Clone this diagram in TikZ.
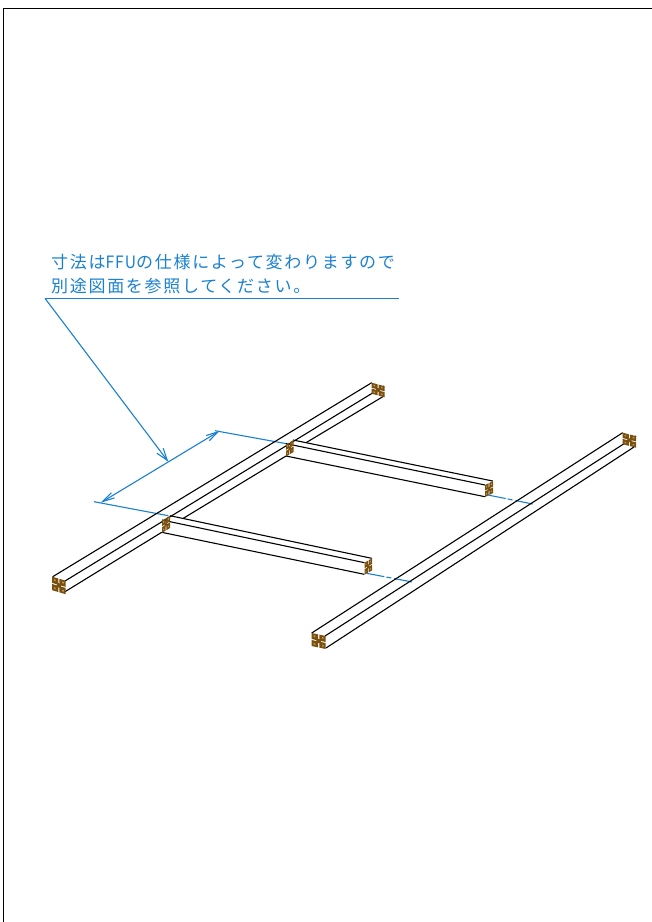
\documentclass[tikz,border=0pt]{standalone}
\usepackage{fontspec}
\usepackage{tikz}
\usetikzlibrary{arrows.meta}
\newfontfamily\cjk[LetterSpace=10]{Noto Sans CJK JP}
\newfontfamily\cjknarrow[FakeStretch=0.92,LetterSpace=6]{Noto Sans CJK JP}
\definecolor{noteblue}{HTML}{1A80D0}
\definecolor{capbrown}{HTML}{7A5010}
\definecolor{capgap}{HTML}{B89850}
\tikzset{
  beamline/.style={line width=1.1pt,black},
  noteline/.style={line width=1.1pt,noteblue},
  centerline/.style={noteline,dash pattern=on 18pt off 2pt on 5pt off 3pt},
  notetext/.style={anchor=base west,inner sep=0pt,text=noteblue,font=\cjk\fontsize{17pt}{18pt}\selectfont}
}
% end face of a frame bar: top left corner, vector across, vector down
\newcommand{\capend}[3]{
  \begin{scope}[shift={#1},x={#2},y={#3}]
    \foreach \u in {0,0.54}
      \foreach \v in {0,0.54}
        \fill[capbrown] (\u,\v) -- ++(0.46,0) -- ++(0,0.46) -- ++(-0.46,0) -- cycle;
    \fill[capbrown] (0.34,0.34) -- (0.66,0.34) -- (0.66,0.66) -- (0.34,0.66) -- cycle;
    \foreach \u in {0.2,0.8}
      \foreach \v in {0.2,0.8}
        \fill[capgap] (\u-0.06,\v-0.06) -- (\u+0.06,\v-0.06) -- (\u+0.06,\v+0.06) -- (\u-0.06,\v+0.06) -- cycle;
  \end{scope}
}
\begin{document}
\begin{tikzpicture}[x=1pt,y=-1pt]
  \useasboundingbox (0,0) rectangle (652,922);
  % sheet border
  \draw[line width=1pt] (3,922) -- (3,8.5) -- (652,8.5);
  % note
  \node[notetext] (noteone) at (51,268.5) {寸法は{\cjknarrow FFU}の仕様によって変わりますので};
  \node[notetext] (notetwo) at (51,292.5) {別途図面を参照してください。};
  \coordinate (noteleft) at (45,298.3);
  \coordinate (noteright) at (399,298.3);
  \coordinate (leadertip) at (168.3,461.7);
  \draw[noteline] (noteright) -- (noteleft);
  \draw[noteline,-{Straight Barb[length=12pt,width=8pt]}] (noteleft) -- (leadertip);
  % dimension
  \coordinate (dimleft) at (100.7,502.7);
  \coordinate (dimright) at (220,430.7);
  \draw[noteline,{Straight Barb[length=12pt,width=6pt]}-{Straight Barb[length=12pt,width=6pt]}] (dimleft) -- (dimright);
  \draw[noteline] (94,501.7) -- (168.3,515.7);
  \draw[noteline] (215,430.7) -- (286,443.6);
  \draw[centerline] (488,495) -- (532.7,504);
  \draw[centerline] (366.7,573.3) -- (412.3,582);
  % left long bar
  \draw[beamline] (52.7,576.7) -- (371.7,382.7);
  \draw[beamline] (65,581) -- (384,386);
  \draw[beamline] (65,591.7) -- (161.7,532.3);
  \draw[beamline] (183.3,518.3) -- (286,456);
  \draw[beamline] (306,442.7) -- (384,396);
  % right long bar
  \draw[beamline] (311.7,633) -- (622.7,432.7);
  \draw[beamline] (325,636) -- (636,436);
  \draw[beamline] (326,648) -- (634,447);
  % cross bars
  \draw[beamline] (293,440) -- (492.7,481);
  \draw[beamline] (286,443.6) -- (485,485);
  \draw[beamline] (286,456) -- (485,496.7);
  \draw[beamline] (170,515.7) -- (371.7,558.3);
  \draw[beamline] (162,520) -- (364.5,562.7);
  \draw[beamline] (161.7,532.3) -- (364.3,574.3);
  % end faces
  \capend{(52.2,576.7)}{(13.5,4)}{(0,13.5)}
  \capend{(371.7,382.7)}{(12.8,3.5)}{(0,11)}
  \capend{(311.7,633)}{(14,3)}{(0,13)}
  \capend{(622.7,432.7)}{(13.5,3.5)}{(0,11.5)}
  \capend{(286,444.5)}{(7.5,-4.5)}{(0,12)}
  \capend{(485,485)}{(8,-4)}{(0,12)}
  \capend{(162,520.5)}{(8,-4.8)}{(0,12.3)}
  \capend{(364.5,562.7)}{(7.5,-4.3)}{(0,12)}
\end{tikzpicture}
\end{document}
